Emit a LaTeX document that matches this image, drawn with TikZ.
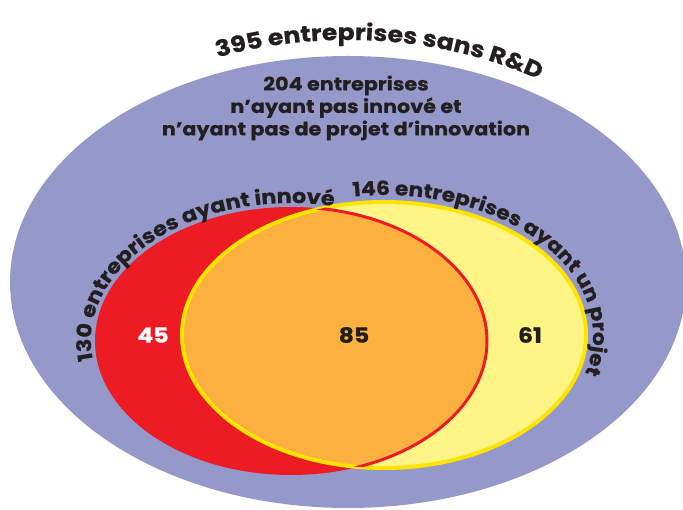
\documentclass[tikz,border=0pt]{standalone}
\usepackage{fontspec}
\setmainfont{Poppins}
\newfontfamily\wfont[FakeStretch=1.12, FakeBold=0.6]{Poppins}
\usetikzlibrary{decorations.text}
\definecolor{bluebg}{RGB}{148,153,202}
\definecolor{redc}{RGB}{237,28,36}
\definecolor{yelfill}{RGB}{255,245,134}
\definecolor{yelline}{RGB}{255,228,0}
\definecolor{orangec}{RGB}{251,176,64}
\definecolor{txt}{RGB}{35,31,32}
\tikzset{
  lbl/.style={text=txt, font=\wfont\bfseries\fontsize{18.5}{22.5}\selectfont, align=center, inner sep=0pt},
  num/.style={font=\wfont\bfseries\fontsize{21}{21}\selectfont, inner sep=0pt},
}
\begin{document}
\begin{tikzpicture}[x=1pt,y=1pt]
\useasboundingbox (0,0) rectangle (683,510);
% sets
\fill[bluebg] (348,228) ellipse [x radius=338, y radius=226];
\fill[redc] (291,169) ellipse [x radius=196, y radius=134];
\fill[yelfill] (384,175) ellipse [x radius=202, y radius=133];
\begin{scope}
  \clip (291,169) ellipse [x radius=196, y radius=134];
  \fill[orangec] (384,175) ellipse [x radius=202, y radius=133];
\end{scope}
\draw[yelline, line width=4] (384,175) ellipse [x radius=202, y radius=133];
\begin{scope}
  \clip (384,175) ellipse [x radius=202, y radius=133];
  \draw[redc, line width=3] (291,169) ellipse [x radius=196, y radius=134];
\end{scope}
% curved labels
\path[decorate, decoration={text along path, text align=center,
  text={|\wfont\bfseries\fontsize{22.5}{22.5}\selectfont\color{txt}|395 entreprises sans R{\&}D}}]
  (348,226) ++(126:350 and 244) arc[start angle=126, end angle=42, x radius=350, y radius=244];
\path[decorate, decoration={text along path, text align=left,
  text={|\wfont\bfseries\fontsize{20}{20}\selectfont\color{txt}|130 entreprises ayant innové}}]
  (291,169) ++(188:200 and 138) arc[start angle=188, end angle=40, x radius=200, y radius=138];
\path[decorate, decoration={text along path, text align=left,
  text={|\wfont\bfseries\fontsize{19.5}{19.5}\selectfont\color{txt}|146 entreprises ayant un projet}}]
  (384,175) ++(98.5:209 and 140) arc[start angle=98.5, end angle=-60, x radius=209, y radius=140];
% straight labels
\node[lbl] (none) at (346,402) {204 entreprises\\n’ayant pas innové et\\n’ayant pas de projet d’innovation};
\node[num, white] (n45) at (153,175) {45};
\node[num, text=txt] (n85) at (354,175) {85};
\node[num, text=txt] (n61) at (530,175) {61};
\end{tikzpicture}
\end{document}
